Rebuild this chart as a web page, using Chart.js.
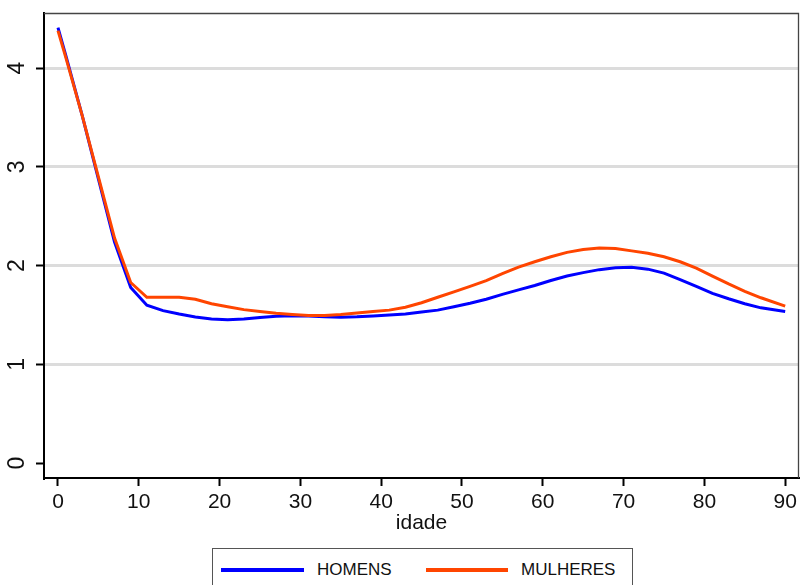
<!DOCTYPE html>
<html>
<head>
<meta charset="utf-8">
<script src="https://cdn.jsdelivr.net/npm/chart.js@4/dist/chart.umd.min.js"></script>
<style>
  body { margin: 0; background: #fff; font-family: 'Liberation Sans', Arial, sans-serif; }
  #wrap { position: relative; width: 800px; height: 585px; overflow: hidden; }
  #legend {
    position: absolute; left: 212px; top: 548px; width: 421px; height: 50px;
    box-sizing: border-box; border: 1px solid #555; background: #fff;
  }
  #legend .line { position: absolute; top: 19px; height: 4px; }
  #legend .txt { position: absolute; top: 11px; font-size: 17px; color: #111; }
</style>
</head>
<body>
<div id="wrap">
  <canvas id="chart" width="800" height="585"></canvas>
  <div id="legend">
    <div class="line" style="left:8px;width:83px;background:#0000ff"></div>
    <div class="txt" style="left:104px">HOMENS</div>
    <div class="line" style="left:213px;width:82px;background:#ff4500"></div>
    <div class="txt" style="left:308px">MULHERES</div>
  </div>
</div>
<script>
// idade (age) values where the curves were read
const ages = [0, 1, 3, 5, 7, 9, 11, 13, 15, 17, 19, 21, 23, 25, 27, 29, 31, 33, 35, 37, 39,
  41, 43, 45, 47, 49, 51, 53, 55, 57, 59, 61, 63, 65, 67, 69, 71, 73, 75, 77, 79,
  81, 83, 85, 87, 90];

const homens = [4.41, 4.12, 3.52, 2.88, 2.24, 1.78, 1.60, 1.545, 1.51, 1.48, 1.46,
  1.452, 1.46, 1.475, 1.487, 1.494, 1.49, 1.482, 1.478, 1.482, 1.49,
  1.50, 1.51, 1.53, 1.55, 1.585, 1.62, 1.66, 1.71, 1.755, 1.80,
  1.85, 1.895, 1.93, 1.96, 1.978, 1.985, 1.965, 1.925, 1.86, 1.79,
  1.72, 1.665, 1.615, 1.573, 1.537];

const mulheres = [4.38, 4.10, 3.52, 2.90, 2.28, 1.83, 1.68, 1.68, 1.68, 1.66, 1.615,
  1.585, 1.555, 1.535, 1.518, 1.505, 1.495, 1.495, 1.505, 1.52, 1.535,
  1.55, 1.58, 1.625, 1.68, 1.735, 1.79, 1.848, 1.92, 1.985, 2.04,
  2.09, 2.135, 2.165, 2.18, 2.175, 2.15, 2.125, 2.09, 2.04, 1.975,
  1.895, 1.815, 1.74, 1.675, 1.59];

const xTicks = [0, 10, 20, 30, 40, 50, 60, 70, 80, 90];
const yTicks = [0, 1, 2, 3, 4];

const toPoints = (vals) => ages.map((a, i) => ({ x: a, y: vals[i] }));

// top/right frame of the plot region
const framePlugin = {
  id: 'frame',
  afterDraw(chart) {
    const { ctx, chartArea: a } = chart;
    ctx.save();
    ctx.strokeStyle = '#444';
    ctx.lineWidth = 1.3;
    ctx.beginPath();
    ctx.moveTo(a.left, a.top + 0.5);
    ctx.lineTo(a.right - 0.5, a.top + 0.5);
    ctx.lineTo(a.right - 0.5, a.bottom);
    ctx.stroke();
    ctx.restore();
  }
};

const ctx = document.getElementById('chart').getContext('2d');
new Chart(ctx, {
  type: 'line',
  data: {
    datasets: [
      {
        label: 'HOMENS',
        data: toPoints(homens),
        borderColor: '#0000ff',
        borderWidth: 3,
        pointRadius: 0,
        tension: 0,
        order: 1
      },
      {
        label: 'MULHERES',
        data: toPoints(mulheres),
        borderColor: '#ff4500',
        borderWidth: 3,
        pointRadius: 0,
        tension: 0,
        order: 0
      }
    ]
  },
  options: {
    responsive: false,
    animation: false,
    layout: {
      padding: { top: 13, right: 1, bottom: 49, left: 0 }
    },
    plugins: {
      legend: { display: false },
      tooltip: { enabled: false }
    },
    scales: {
      x: {
        type: 'linear',
        min: -1.73,
        max: 91.71,
        afterBuildTicks: (scale) => { scale.ticks = xTicks.map(v => ({ value: v })); },
        afterFit: (scale) => {
          scale.height = 58;
          scale.paddingLeft = 0;
          scale.paddingRight = 0;
        },
        border: { display: true, color: '#000', width: 2 },
        grid: {
          drawOnChartArea: false,
          drawTicks: true,
          tickLength: 8,
          tickColor: '#000',
          tickWidth: 2
        },
        ticks: {
          padding: 4,
          color: '#111',
          font: { family: "'Liberation Sans', Arial, sans-serif", size: 21 }
        },
        title: {
          display: true,
          text: 'idade',
          color: '#111',
          padding: 0,
          font: { family: "'Liberation Sans', Arial, sans-serif", size: 21 }
        }
      },
      y: {
        min: -0.15,
        max: 4.559,
        afterBuildTicks: (scale) => { scale.ticks = yTicks.map(v => ({ value: v })); },
        afterFit: (scale) => {
          scale.width = 44;
          scale.paddingTop = 0;
          scale.paddingBottom = 0;
        },
        border: { display: true, color: '#000', width: 2 },
        grid: {
          color: (c) => (c.tick && c.tick.value === 0 ? 'rgba(0,0,0,0)' : '#dcdcdc'),
          lineWidth: 3,
          drawTicks: true,
          tickLength: 8,
          tickColor: '#000',
          tickWidth: 2
        },
        ticks: {
          minRotation: 90,
          maxRotation: 90,
          crossAlign: 'center',
          padding: 12,
          color: '#111',
          font: { family: "'Liberation Sans', Arial, sans-serif", size: 23 }
        }
      }
    }
  },
  plugins: [framePlugin]
});
</script>
</body>
</html>
